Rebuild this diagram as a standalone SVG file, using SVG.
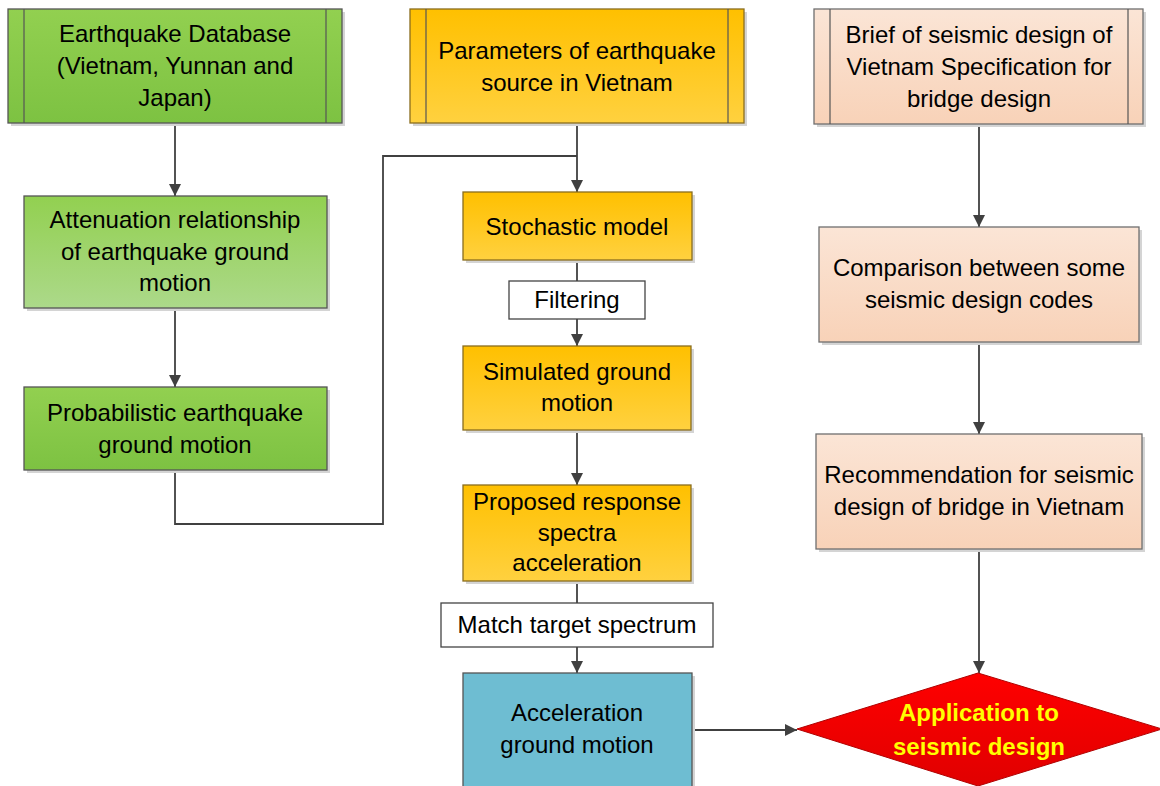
<svg xmlns="http://www.w3.org/2000/svg" width="1160" height="786" viewBox="0 0 1160 786">
<style>
text{font-family:"Liberation Sans",Arial,sans-serif;font-size:24px;fill:#000;text-anchor:middle}
.shadow{fill:#d4d4d4}
.box{stroke:#555;stroke-width:1.3}
.obox{stroke:#8a6d1e;stroke-width:1.3}
.pbox{stroke:#6f6f6f;stroke-width:1.3}
.inner{stroke:#555;stroke-width:1.2}
.wbox{fill:#fff;stroke:#444;stroke-width:1.3}
.conn{fill:none;stroke:#404040;stroke-width:1.8}
.dt{fill:#ffff00;font-weight:bold}
</style>
<defs>
<linearGradient id="g1" x1="0" y1="0" x2="0" y2="1"><stop offset="0" stop-color="#92d050"/><stop offset="1" stop-color="#7dc242"/></linearGradient>
<linearGradient id="g2" x1="0" y1="0" x2="0" y2="1"><stop offset="0" stop-color="#92d050"/><stop offset="1" stop-color="#acd98a"/></linearGradient>
<linearGradient id="o1" x1="0" y1="0" x2="0" y2="1"><stop offset="0" stop-color="#ffc000"/><stop offset="1" stop-color="#ffd13f"/></linearGradient>
<linearGradient id="p1" x1="0" y1="0" x2="0" y2="1"><stop offset="0" stop-color="#fbe5d6"/><stop offset="1" stop-color="#f8d2b8"/></linearGradient>
<linearGradient id="r1" x1="0" y1="0" x2="0" y2="1"><stop offset="0" stop-color="#ff0000"/><stop offset="1" stop-color="#e00000"/></linearGradient>
<marker id="ah" viewBox="0 0 12 12" refX="12" refY="6" markerWidth="12" markerHeight="12" markerUnits="userSpaceOnUse" orient="auto">
<path d="M0,0 L12,6 L0,12 Z" fill="#404040"/>
</marker>
</defs>

<g id="connectors">
<path class="conn" d="M175,123 V196" marker-end="url(#ah)"/>
<path class="conn" d="M175,308 V387" marker-end="url(#ah)"/>
<path class="conn" d="M175,470 V524 H383 V156 H577"/>
<path class="conn" d="M577,123 V192" marker-end="url(#ah)"/>
<path class="conn" d="M577,260 V281"/>
<path class="conn" d="M577,319 V346" marker-end="url(#ah)"/>
<path class="conn" d="M577,430 V485" marker-end="url(#ah)"/>
<path class="conn" d="M577,581 V603"/>
<path class="conn" d="M577,647 V673" marker-end="url(#ah)"/>
<path class="conn" d="M692,730 H797" marker-end="url(#ah)"/>
<path class="conn" d="M979,124 V227" marker-end="url(#ah)"/>
<path class="conn" d="M979,342 V434" marker-end="url(#ah)"/>
<path class="conn" d="M979,549 V673" marker-end="url(#ah)"/>
</g>

<g id="n-database">
<rect class="shadow" x="11" y="12" width="334" height="114"/>
<rect class="box" x="8" y="9" width="334" height="114" fill="url(#g1)"/>
<line class="inner" x1="24" y1="9" x2="24" y2="123"/>
<line class="inner" x1="326" y1="9" x2="326" y2="123"/>
<text x="175" y="42">Earthquake Database</text>
<text x="175" y="74">(Vietnam, Yunnan and</text>
<text x="175" y="106">Japan)</text>
</g>

<g id="n-parameters">
<rect class="shadow" x="413" y="12" width="334" height="114"/>
<rect class="obox" x="410" y="9" width="334" height="114" fill="url(#o1)"/>
<line class="inner" x1="426" y1="9" x2="426" y2="123"/>
<line class="inner" x1="728" y1="9" x2="728" y2="123"/>
<text x="577" y="59">Parameters of earthquake</text>
<text x="577" y="91">source in Vietnam</text>
</g>

<g id="n-brief">
<rect class="shadow" x="817" y="12" width="329" height="115"/>
<rect class="pbox" x="814" y="9" width="329" height="115" fill="url(#p1)"/>
<line class="inner" x1="830" y1="9" x2="830" y2="124"/>
<line class="inner" x1="1128" y1="9" x2="1128" y2="124"/>
<text x="979" y="43">Brief of seismic design of</text>
<text x="979" y="75">Vietnam Specification for</text>
<text x="979" y="107">bridge design</text>
</g>

<g id="n-attenuation">
<rect class="shadow" x="27" y="199" width="303" height="112"/>
<rect class="box" x="24" y="196" width="303" height="112" fill="url(#g2)"/>
<text x="175" y="228">Attenuation relationship</text>
<text x="175" y="260">of earthquake ground</text>
<text x="175" y="291">motion</text>
</g>

<g id="n-probabilistic">
<rect class="shadow" x="27" y="390" width="303" height="83"/>
<rect class="box" x="24" y="387" width="303" height="83" fill="url(#g1)"/>
<text x="175" y="421">Probabilistic earthquake</text>
<text x="175" y="453">ground motion</text>
</g>

<g id="n-stochastic">
<rect class="shadow" x="466" y="195" width="229" height="68"/>
<rect class="obox" x="463" y="192" width="229" height="68" fill="url(#o1)"/>
<text x="577" y="235">Stochastic model</text>
</g>

<g id="n-filtering">
<rect class="wbox" x="509" y="281" width="136" height="38"/>
<text x="577" y="308">Filtering</text>
</g>

<g id="n-simulated">
<rect class="shadow" x="466" y="349" width="228" height="84"/>
<rect class="obox" x="463" y="346" width="228" height="84" fill="url(#o1)"/>
<text x="577" y="380">Simulated ground</text>
<text x="577" y="411">motion</text>
</g>

<g id="n-proposed">
<rect class="shadow" x="466" y="488" width="228" height="96"/>
<rect class="obox" x="463" y="485" width="228" height="96" fill="url(#o1)"/>
<text x="577" y="510">Proposed response</text>
<text x="577" y="541">spectra</text>
<text x="577" y="571">acceleration</text>
</g>

<g id="n-match">
<rect class="wbox" x="441" y="603" width="272" height="44"/>
<text x="577" y="633">Match target spectrum</text>
</g>

<g id="n-acceleration">
<rect class="shadow" x="466" y="676" width="229" height="115"/>
<rect class="box" x="463" y="673" width="229" height="118" fill="#6ebdd2"/>
<text x="577" y="721">Acceleration</text>
<text x="577" y="753">ground motion</text>
</g>

<g id="n-comparison">
<rect class="shadow" x="822" y="230" width="320" height="115"/>
<rect class="pbox" x="819" y="227" width="320" height="115" fill="url(#p1)"/>
<text x="979" y="276">Comparison between some</text>
<text x="979" y="308">seismic design codes</text>
</g>

<g id="n-recommendation">
<rect class="shadow" x="819" y="437" width="326" height="115"/>
<rect class="pbox" x="816" y="434" width="326" height="115" fill="url(#p1)"/>
<text x="979" y="483">Recommendation for seismic</text>
<text x="979" y="515">design of bridge in Vietnam</text>
</g>

<g id="n-application">
<polygon points="978,673 1162,729 978,786 797,729" fill="url(#r1)" stroke="#b00000" stroke-width="1"/>
<text class="dt" x="979" y="721">Application to</text>
<text class="dt" x="979" y="755">seismic design</text>
</g>
</svg>
